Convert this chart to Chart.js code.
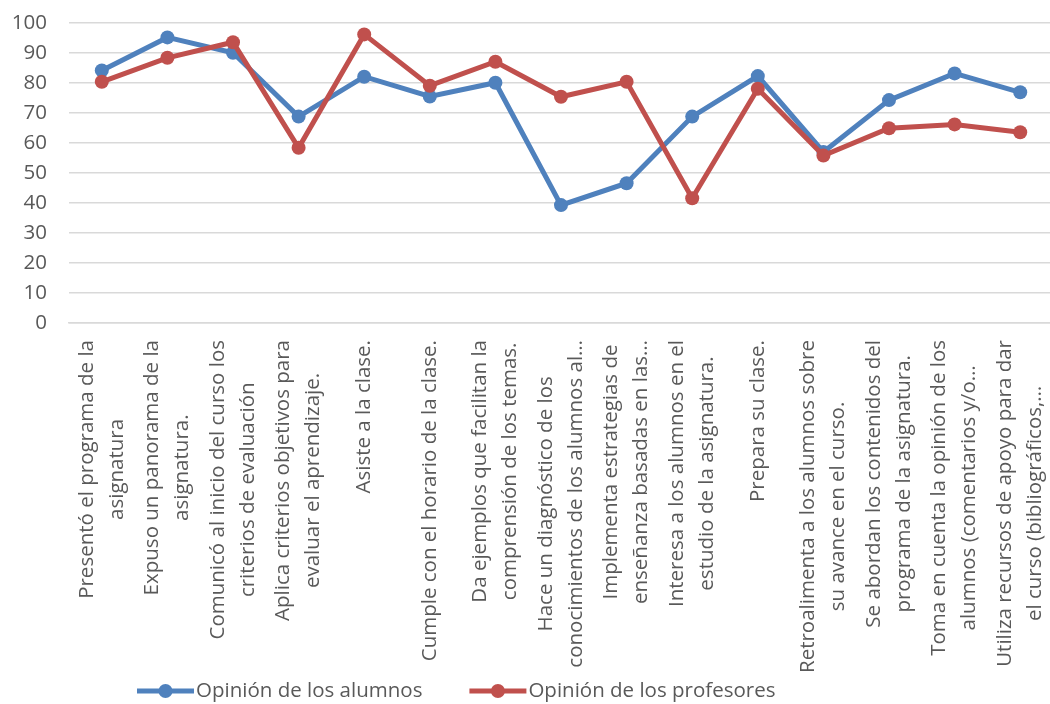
<!DOCTYPE html>
<html>
<head>
<meta charset="utf-8">
<script src="https://cdn.jsdelivr.net/npm/chart.js@4.4.1/dist/chart.umd.min.js"></script>
<style>
  html, body { margin: 0; padding: 0; background: #fff; overflow: hidden; }
  #wrap { width: 1060px; height: 704px; }
</style>
</head>
<body>
<div id="wrap"><canvas id="chart" width="1060" height="704" style="width:1060px;height:704px"></canvas></div>
<script>
// categories, already wrapped the way the original axis shows them
const categories = [
  ['Presentó el programa de la', 'asignatura'],
  ['Expuso un panorama de la', 'asignatura.'],
  ['Comunicó al inicio del curso los', 'criterios de evaluación'],
  ['Aplica criterios objetivos para', 'evaluar el aprendizaje.'],
  ['Asiste a la clase.'],
  ['Cumple con el horario de la clase.'],
  ['Da ejemplos que facilitan la', 'comprensión de los temas.'],
  ['Hace un diagnóstico de los', 'conocimientos de los alumnos al…'],
  ['Implementa estrategias de', 'enseñanza basadas en las…'],
  ['Interesa a los alumnos en el', 'estudio de la asignatura.'],
  ['Prepara su clase.'],
  ['Retroalimenta a los alumnos sobre', 'su avance en el curso.'],
  ['Se abordan los contenidos del', 'programa de la asignatura.'],
  ['Toma en cuenta la opinión de los', 'alumnos (comentarios y/o…'],
  ['Utiliza recursos de apoyo para dar', 'el curso (bibliográficos,…']
];

const seriesNames = ['Opinión de los alumnos', 'Opinión de los profesores'];
const alumnos    = [84.2, 95.2, 90.1, 68.8, 82.1, 75.5, 80.1, 39.3, 46.6, 68.8, 82.3, 57.0, 74.3, 83.2, 76.9];
const profesores = [80.4, 88.4, 93.6, 58.4, 96.2, 79.1, 87.1, 75.4, 80.4, 41.6, 78.1, 55.8, 64.9, 66.2, 63.6];

const yTicks = [0, 10, 20, 30, 40, 50, 60, 70, 80, 90, 100];

const FONT = '"Open Sans", sans-serif';
const TEXT = '#595959';
const GRID = '#d9d9d9';
const colors = ['#4f81bd', '#c0504d'];

// rotated category labels, lines centred on each other like the original
const xLabels = {
  id: 'xLabels',
  afterDraw(chart) {
    const ctx = chart.ctx;
    const xs = chart.scales.x;
    const top = chart.chartArea.bottom + 17;
    ctx.save();
    ctx.font = '20.5px ' + FONT;
    ctx.fillStyle = TEXT;
    ctx.textAlign = 'center';
    ctx.textBaseline = 'middle';
    categories.forEach((lines, i) => {
      const w = Math.max(...lines.map(s => ctx.measureText(s).width));
      ctx.save();
      ctx.translate(xs.getPixelForValue(i), top + w / 2);
      ctx.rotate(-Math.PI / 2);
      lines.forEach((s, j) => ctx.fillText(s, 0, (j - (lines.length - 1) / 2) * 30));
      ctx.restore();
    });
    ctx.restore();
  }
};

// legend: line with marker, then the name
const lineLegend = {
  id: 'lineLegend',
  afterDraw(chart) {
    const ctx = chart.ctx;
    const y = 691;
    let x = 137;
    ctx.save();
    ctx.font = '20.5px ' + FONT;
    ctx.textBaseline = 'middle';
    chart.data.datasets.forEach(ds => {
      ctx.strokeStyle = ds.borderColor;
      ctx.fillStyle = ds.borderColor;
      ctx.lineWidth = 5;
      ctx.beginPath();
      ctx.moveTo(x, y);
      ctx.lineTo(x + 57, y);
      ctx.stroke();
      ctx.beginPath();
      ctx.arc(x + 28.5, y, 7, 0, Math.PI * 2);
      ctx.fill();
      ctx.fillStyle = TEXT;
      ctx.fillText(ds.label, x + 59, y);
      x += 59 + ctx.measureText(ds.label).width + 47;
    });
    ctx.restore();
  }
};

const series = [alumnos, profesores];

new Chart(document.getElementById('chart'), {
  type: 'line',
  plugins: [xLabels, lineLegend],
  data: {
    labels: categories,
    datasets: series.map((d, i) => ({
      label: seriesNames[i],
      data: d,
      borderColor: colors[i],
      backgroundColor: colors[i],
      pointBackgroundColor: colors[i],
      pointBorderColor: colors[i],
      borderWidth: 5,
      pointRadius: 7,
      pointBorderWidth: 0,
      tension: 0,
      order: 2 - i   // profesores drawn over alumnos
    }))
  },
  options: {
    responsive: false,
    animation: false,
    events: [],
    layout: { padding: { top: 23, right: 1, left: 0, bottom: 0 } },
    plugins: {
      legend: { display: false },
      title: { display: false },
      tooltip: { enabled: false }
    },
    scales: {
      x: {
        offset: true,
        grid: { display: false },
        border: { display: true, color: GRID, width: 1.5 },
        ticks: { display: false },
        afterFit(scale) { scale.height = 704 - 323; }
      },
      y: {
        min: yTicks[0],
        max: yTicks[yTicks.length - 1],
        afterBuildTicks(scale) { scale.ticks = yTicks.map(v => ({ value: v })); },
        grid: { color: GRID, lineWidth: 1.5, drawTicks: false },
        border: { display: false },
        ticks: {
          padding: 22,
          color: TEXT,
          font: { family: FONT, size: 20.5 }
        },
        afterFit(scale) {
          scale.width = 69;
          scale.paddingTop = 0;     // tick padding would otherwise push the plot down
          scale.paddingBottom = 0;
        }
      }
    }
  }
});
</script>
</body>
</html>
